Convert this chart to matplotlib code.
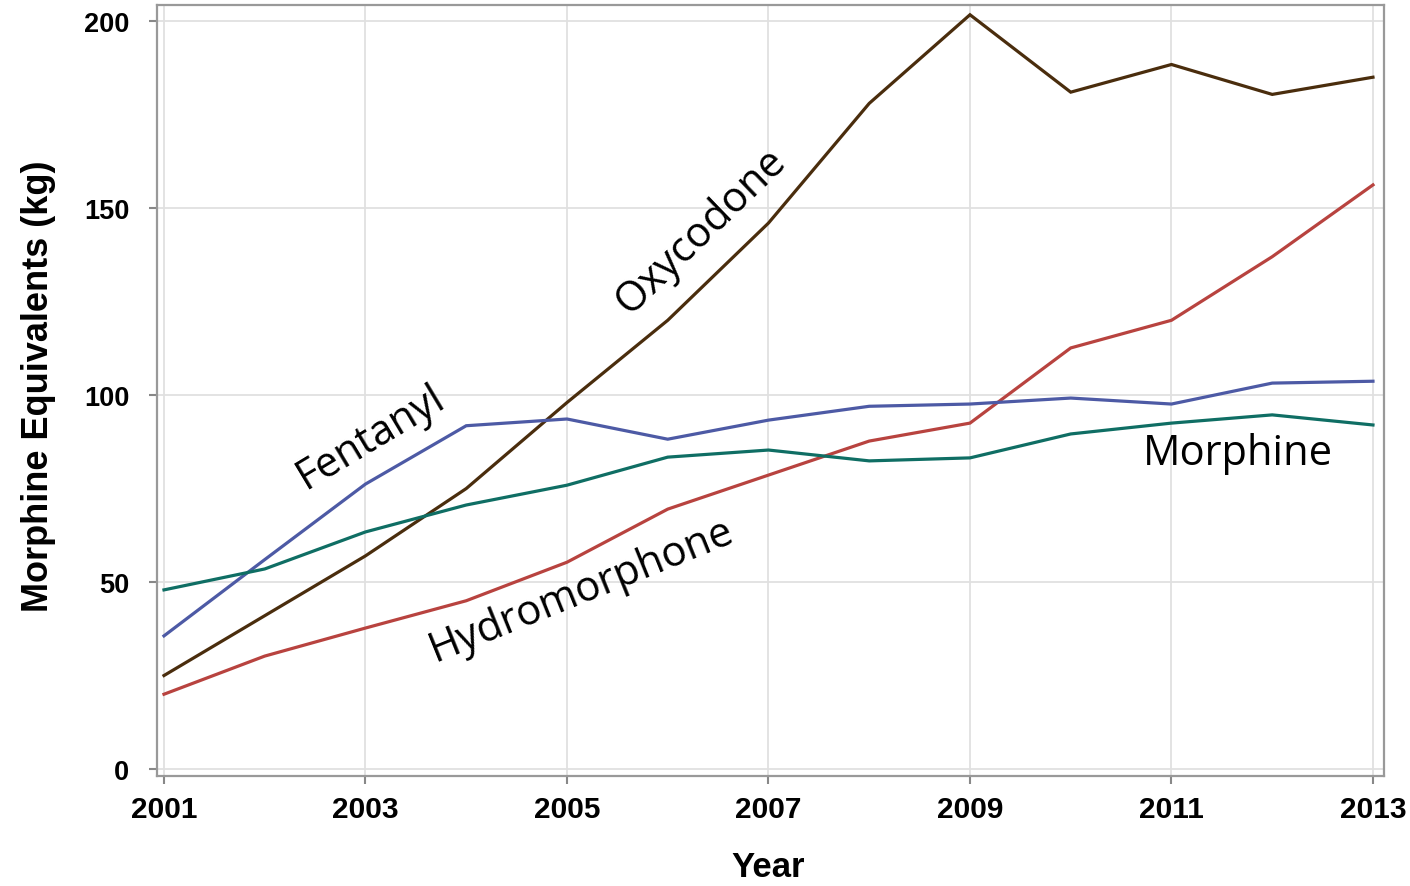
import matplotlib
matplotlib.use("Agg")
import matplotlib.pyplot as plt

years = list(range(2001, 2014))
oxycodone = [25, 41, 57, 75, 98, 120, 146, 178, 201.7, 181, 188.4, 180.4, 185]
hydromorphone = [20, 30.2, 37.7, 45, 55.3, 69.5, 78.6, 87.7, 92.5, 112.6, 120, 137, 156.2]
fentanyl = [35.6, 56, 76.2, 91.8, 93.6, 88.2, 93.3, 97, 97.6, 99.2, 97.6, 103.2, 103.7]
morphine = [47.9, 53.5, 63.4, 70.6, 75.9, 83.4, 85.3, 82.4, 83.2, 89.6, 92.5, 94.7, 92]

series = [
    ("Oxycodone", oxycodone, "#4a2d0d"),
    ("Hydromorphone", hydromorphone, "#b8433f"),
    ("Fentanyl", fentanyl, "#4d5aa5"),
    ("Morphine", morphine, "#0f6e64"),
]

xticks = [2001, 2003, 2005, 2007, 2009, 2011, 2013]
yticks = [0, 50, 100, 150, 200]

fig = plt.figure(figsize=(14.10, 8.87), dpi=100)
ax = fig.add_axes([0.1113, 0.124, 0.8703, 0.8692])

for name, vals, color in series:
    ax.plot(years, vals, color=color, linewidth=2.3, solid_joinstyle="miter", zorder=3)

ax.set_xlim(2000.93, 2013.11)
ax.set_ylim(-1.87, 204.3)
ax.set_xticks(xticks)
ax.set_yticks(yticks)
ax.grid(True, color="#e0e0e0", linewidth=1.3, zorder=0)
ax.set_axisbelow(True)

for s in ax.spines.values():
    s.set_color("#999999")
    s.set_linewidth(1.6)

ax.tick_params(axis="both", direction="out", length=6, width=1.5, color="#888888")
ax.tick_params(axis="x", pad=8)
ax.tick_params(axis="y", pad=14)

axis_font = ["Liberation Sans", "DejaVu Sans"]
for lab in ax.get_xticklabels():
    lab.set_family(axis_font)
    lab.set_fontweight("bold")
    lab.set_fontsize(21.5)
for lab in ax.get_yticklabels():
    lab.set_family(axis_font)
    lab.set_fontweight("bold")
    lab.set_fontsize(19.5)

ax.set_xlabel("Year", fontsize=25, fontweight="bold", family=axis_font)
ax.xaxis.label.set_va("center")
ax.xaxis.set_label_coords(0.498, -0.118)

ax.set_ylabel("Morphine Equivalents (kg)", fontsize=26, fontweight="bold", family=axis_font)
ax.yaxis.label.set_va("center")
ax.yaxis.set_label_coords(-0.0965, 0.507)

label_font = ["Open Sans", "DejaVu Sans"]
ax.text(2006.33, 144, "Oxycodone", rotation=44, fontsize=30, family=label_font,
        ha="center", va="center", rotation_mode="anchor")
ax.text(2003.05, 89, "Fentanyl", rotation=31, fontsize=30, family=label_font,
        ha="center", va="center", rotation_mode="anchor")
ax.text(2005.14, 48.1, "Hydromorphone", rotation=22, fontsize=30, family=label_font,
        ha="center", va="center", rotation_mode="anchor")
ax.text(2011.66, 84.5, "Morphine", rotation=0, fontsize=30, family=label_font,
        ha="center", va="center")

fig.savefig("out.png", dpi=100)
